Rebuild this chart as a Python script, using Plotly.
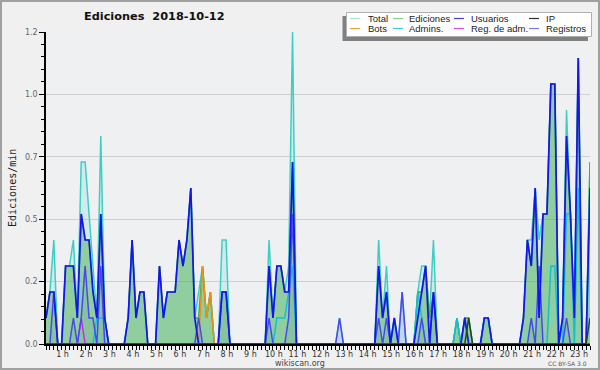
import plotly.graph_objects as go

# 10-minute slots from 00:00 to 23:10 (hours)
slot_hours = [i / 6 for i in range(140)]

hour_ticks = list(range(1, 24))
hour_labels = [f"{h} h" for h in hour_ticks]

y_tickvals = [0, 0.24, 0.48, 0.72, 0.96, 1.2]
y_ticktext = ["0.0", "0.2", "0.5", "0.7", "1.0", "1.2"]

# values in edits per minute, one row per hour (6 slots)
total = [
    0.1, 0.2, 0.4, 0, 0, 0.3,
    0.3, 0.4, 0.1, 0.7, 0.7, 0.5,
    0.3, 0.1, 0.8, 0.1, 0, 0,
    0, 0, 0, 0.1, 0.4, 0.1,
    0.2, 0.2, 0, 0, 0, 0.3,
    0.1, 0.2, 0.2, 0.2, 0.4, 0.3,
    0.4, 0.6, 0.1, 0.2, 0.3, 0.1,
    0.2, 0, 0, 0.4, 0.4, 0,
    0, 0, 0, 0, 0, 0,
    0, 0, 0, 0.4, 0.1, 0.3,
    0.3, 0.2, 0.3, 1.2, 0, 0,
    0, 0, 0, 0, 0, 0,
    0, 0, 0, 0.1, 0, 0,
    0, 0, 0, 0, 0, 0,
    0, 0.4, 0.1, 0.3, 0, 0.1,
    0, 0.2, 0, 0, 0, 0.2,
    0.3, 0.3, 0.1, 0.4, 0, 0,
    0, 0, 0, 0.1, 0, 0.1,
    0.1, 0, 0, 0, 0.1, 0.1,
    0, 0, 0, 0, 0, 0,
    0, 0, 0.1, 0.4, 0.4, 0.6,
    0.4, 0.5, 0.5, 1.0, 1.0, 0,
    0.1, 0.9, 0.5, 0.1, 1.1, 0,
    0, 0.7,
]

ediciones = [
    0.1, 0.2, 0.2, 0, 0, 0.3,
    0.3, 0.3, 0.1, 0.5, 0.4, 0.4,
    0.2, 0.1, 0.5, 0.1, 0, 0,
    0, 0, 0, 0.1, 0.4, 0.1,
    0.2, 0.2, 0, 0, 0, 0.3,
    0.1, 0.2, 0.2, 0.2, 0.4, 0.3,
    0.4, 0.6, 0.1, 0.1, 0.3, 0.1,
    0.2, 0, 0, 0.2, 0.2, 0,
    0, 0, 0, 0, 0, 0,
    0, 0, 0, 0.3, 0.1, 0.3,
    0.3, 0.2, 0.2, 0.7, 0, 0,
    0, 0, 0, 0, 0, 0,
    0, 0, 0, 0, 0, 0,
    0, 0, 0, 0, 0, 0,
    0, 0.3, 0.1, 0.2, 0, 0.1,
    0, 0, 0, 0, 0, 0.2,
    0.2, 0.3, 0.1, 0.2, 0, 0,
    0, 0, 0, 0.1, 0, 0.1,
    0.1, 0, 0, 0, 0.1, 0.1,
    0, 0, 0, 0, 0, 0,
    0, 0, 0.1, 0.4, 0.3, 0.6,
    0.1, 0.5, 0.5, 1.0, 1.0, 0,
    0.1, 0.8, 0.5, 0.1, 1.1, 0,
    0, 0.7,
]

usuarios = [
    0.1, 0.2, 0.2, 0, 0, 0.3,
    0.3, 0.3, 0.1, 0.5, 0.4, 0.4,
    0.2, 0.1, 0.5, 0.1, 0, 0,
    0, 0, 0, 0.1, 0.4, 0.1,
    0.2, 0.2, 0, 0, 0, 0.3,
    0.1, 0.2, 0.2, 0.2, 0.4, 0.3,
    0.4, 0.6, 0.1, 0, 0, 0,
    0, 0, 0, 0.2, 0.2, 0,
    0, 0, 0, 0, 0, 0,
    0, 0, 0, 0.3, 0.1, 0.3,
    0.3, 0.2, 0.2, 0.7, 0, 0,
    0, 0, 0, 0, 0, 0,
    0, 0, 0, 0, 0, 0,
    0, 0, 0, 0, 0, 0,
    0, 0.3, 0.1, 0.2, 0, 0.1,
    0, 0, 0, 0, 0, 0.1,
    0.2, 0.3, 0, 0.2, 0, 0,
    0, 0, 0, 0, 0, 0.1,
    0, 0, 0, 0, 0.1, 0.1,
    0, 0, 0, 0, 0, 0,
    0, 0, 0.1, 0.4, 0.3, 0.6,
    0.1, 0.5, 0.5, 1.0, 1.0, 0,
    0.1, 0.8, 0.5, 0.1, 1.1, 0,
    0, 0.6,
]

ip = [
    0, 0, 0, 0, 0, 0,
    0, 0, 0, 0, 0, 0,
    0, 0, 0, 0, 0, 0,
    0, 0, 0, 0, 0, 0,
    0, 0, 0, 0, 0, 0,
    0, 0, 0, 0, 0, 0,
    0, 0, 0, 0, 0, 0,
    0, 0, 0, 0, 0, 0,
    0, 0, 0, 0, 0, 0,
    0, 0, 0, 0, 0, 0,
    0, 0, 0, 0, 0, 0,
    0, 0, 0, 0, 0, 0,
    0, 0, 0, 0, 0, 0,
    0, 0, 0, 0, 0, 0,
    0, 0, 0, 0, 0, 0,
    0, 0, 0, 0, 0, 0,
    0, 0, 0, 0, 0, 0,
    0, 0, 0, 0, 0, 0,
    0.1, 0, 0, 0, 0, 0,
    0, 0, 0, 0, 0, 0,
    0, 0, 0, 0, 0, 0,
    0, 0, 0, 0, 0, 0,
    0, 0, 0, 0, 0, 0,
    0, 0.1,
]

bots = [
    0, 0, 0, 0, 0, 0,
    0, 0, 0, 0, 0, 0,
    0, 0, 0, 0, 0, 0,
    0, 0, 0, 0, 0, 0,
    0, 0, 0, 0, 0, 0,
    0, 0, 0, 0, 0, 0,
    0, 0, 0, 0, 0.3, 0.1,
    0.2, 0, 0, 0, 0, 0,
] + [0] * 92

admins = [
    0, 0, 0, 0, 0, 0,
    0, 0, 0, 0, 0, 0,
    0, 0.1, 0.1, 0.1, 0, 0,
    0, 0, 0, 0, 0, 0,
    0, 0, 0, 0, 0, 0,
    0, 0, 0, 0, 0, 0,
    0, 0, 0, 0, 0, 0,
    0, 0, 0, 0, 0, 0,
    0, 0, 0, 0, 0, 0,
    0, 0, 0, 0, 0, 0.1,
    0.1, 0.1, 0.2, 0.3, 0, 0,
    0, 0, 0, 0, 0, 0,
    0, 0, 0, 0, 0, 0,
    0, 0, 0, 0, 0, 0,
    0, 0, 0, 0, 0, 0,
    0, 0, 0, 0, 0, 0.2,
    0.1, 0, 0, 0, 0, 0,
    0, 0, 0, 0.1, 0, 0,
    0, 0, 0, 0, 0.1, 0.1,
    0, 0, 0, 0, 0, 0,
    0, 0, 0, 0, 0, 0,
    0, 0, 0, 0.3, 0.3, 0,
    0, 0.5, 0.5, 0, 0.6, 0,
    0, 0.6,
]

reg_adm = [
    0, 0, 0, 0, 0, 0,
    0, 0, 0, 0.1, 0, 0,
] + [0] * 128

registros = [
    0, 0, 0.2, 0, 0, 0,
    0, 0.1, 0, 0.1, 0.3, 0.1,
    0.1, 0, 0.3, 0, 0, 0,
    0, 0, 0, 0, 0, 0,
    0, 0, 0, 0, 0, 0,
    0, 0, 0, 0, 0, 0,
    0, 0, 0, 0.1, 0, 0,
    0, 0, 0, 0.2, 0.2, 0,
    0, 0, 0, 0, 0, 0,
    0, 0, 0, 0.1, 0, 0,
    0, 0, 0.1, 0.5, 0, 0,
    0, 0, 0, 0, 0, 0,
    0, 0, 0, 0.1, 0, 0,
    0, 0, 0, 0, 0, 0,
    0, 0.1, 0, 0.1, 0, 0,
    0, 0.2, 0, 0, 0, 0,
    0.1, 0, 0, 0.2, 0, 0,
    0, 0, 0, 0, 0, 0,
    0, 0, 0, 0, 0, 0,
    0, 0, 0, 0, 0, 0,
    0, 0, 0, 0, 0.1, 0,
    0.3, 0, 0, 0, 0, 0,
    0, 0.1, 0, 0, 0, 0,
    0, 0,
]

legend_names = ["Total", "Ediciones", "Usuarios", "IP",
                "Bots", "Admins.", "Reg. de adm.", "Registros"]
legend_colors = ["#a8e4dc", "#8cd08c", "#4040e0", "#303030",
                 "#f0a040", "#40c8d8", "#d050e0", "#7878f0"]

W, H = 600, 370
L, R, T, B = 46, 10, 32, 26
PW, PH = W - L - R, H - T - B


def px(x):
    return (x - L) / PW


def py(y):
    return (H - B - y) / PH


fig = go.Figure()

fig.add_trace(go.Scatter(x=slot_hours, y=total, name="Total", mode="lines",
                         line=dict(color="#3ecfc4", width=1.5),
                         fill="tozeroy", fillcolor="rgba(62,207,196,0.16)"))
fig.add_trace(go.Scatter(x=slot_hours, y=registros, name="Registros", mode="lines",
                         line=dict(width=0), fill="tozeroy",
                         fillcolor="rgba(80,80,230,0.12)", showlegend=False))
fig.add_trace(go.Scatter(x=slot_hours, y=ediciones, name="Ediciones", mode="lines",
                         line=dict(color="#44a850", width=1.5),
                         fill="tozeroy", fillcolor="rgba(80,176,84,0.5)"))
fig.add_trace(go.Scatter(x=slot_hours, y=admins, name="Admins.", mode="lines",
                         line=dict(color="#10c0d4", width=1.5)))
fig.add_trace(go.Scatter(x=slot_hours, y=bots, name="Bots", mode="lines",
                         line=dict(color="#f09010", width=1.5)))
fig.add_trace(go.Scatter(x=slot_hours, y=reg_adm, name="Reg. de adm.", mode="lines",
                         line=dict(color="#c030e0", width=1.5)))
fig.add_trace(go.Scatter(x=slot_hours, y=registros, name="Registros", mode="lines",
                         line=dict(color="#4848f0", width=1.5)))
fig.add_trace(go.Scatter(x=slot_hours, y=usuarios, name="Usuarios", mode="lines",
                         line=dict(color="#1414f0", width=1.7)))
fig.add_trace(go.Scatter(x=slot_hours, y=ip, name="IP", mode="lines",
                         line=dict(color="#224422", width=1.5)))

shapes = [
    # outer frame
    dict(type="rect", xref="paper", yref="paper", x0=px(1), x1=px(599), y0=py(1), y1=py(369),
         line=dict(color="#a0a0a0", width=2), fillcolor="rgba(0,0,0,0)", layer="above"),
    # legend shadow
    dict(type="rect", xref="paper", yref="paper", x0=px(342.5), x1=px(588), y0=py(16), y1=py(41),
         line=dict(width=0), fillcolor="#808080", layer="above"),
    # legend box
    dict(type="rect", xref="paper", yref="paper", x0=px(346.5), x1=px(591.5), y0=py(12.5), y1=py(36.5),
         line=dict(color="#b0b0b0", width=1), fillcolor="#ffffff", layer="above"),
]

annotations = []
sample_x = [350, 393, 454, 529]
text_x = [366, 407, 469, 544]
row_y = [18.5, 28.5]
for k, (name, col) in enumerate(zip(legend_names, legend_colors)):
    r, c = divmod(k, 4)
    shapes.append(dict(type="line", xref="paper", yref="paper",
                       x0=px(sample_x[c]), x1=px(sample_x[c] + 10),
                       y0=py(row_y[r]), y1=py(row_y[r]),
                       line=dict(color=col, width=1.2), layer="above"))
    annotations.append(dict(xref="paper", yref="paper", x=px(text_x[c]), y=py(row_y[r]),
                            text=name, showarrow=False, xanchor="left", yanchor="middle",
                            font=dict(family="Liberation Sans", size=9.5, color="#222")))

annotations += [
    dict(xref="paper", yref="paper", x=px(154), y=py(17), text="Ediciones\u00a0 2018-10-12",
         showarrow=False, xanchor="center", yanchor="middle",
         font=dict(family="DejaVu Sans", size=11.3, color="#111", weight="bold")),
    dict(xref="paper", yref="paper", x=px(12), y=py(188), text="Ediciones/min",
         showarrow=False, textangle=-90, xanchor="center", yanchor="middle",
         font=dict(family="DejaVu Sans Mono", size=10, color="#222")),
    dict(xref="paper", yref="paper", x=px(300), y=py(363), text="wikiscan.org",
         showarrow=False, xanchor="center", yanchor="middle",
         font=dict(family="DejaVu Sans", size=8, color="#444")),
    dict(xref="paper", yref="paper", x=px(589), y=py(363.5), text="CC BY-SA 3.0",
         showarrow=False, xanchor="right", yanchor="middle",
         font=dict(family="DejaVu Sans", size=6, color="#555")),
]

fig.update_layout(
    width=W, height=H,
    margin=dict(l=L, r=R, t=T, b=B),
    paper_bgcolor="#f0f0f0",
    plot_bgcolor="#eef0f2",
    showlegend=False,
    shapes=shapes,
    annotations=annotations,
    xaxis=dict(
        range=[0, slot_hours[-1]], tickmode="array", tickvals=hour_ticks, ticktext=hour_labels,
        ticks="outside", ticklen=4, tickwidth=1, tickcolor="#000",
        ticklabelshift=-7, ticklabelstandoff=-3,
        tickfont=dict(family="DejaVu Sans", size=8, color="#333"),
        showline=True, linecolor="#000", linewidth=2, showgrid=False, zeroline=False,
        layer="above traces", fixedrange=True,
        minor=dict(tickmode="linear", tick0=0, dtick=1 / 6, ticks="outside",
                   ticklen=4, tickcolor="#000", tickwidth=1, showgrid=False),
    ),
    yaxis=dict(
        range=[0, 1.2], tickmode="array", tickvals=y_tickvals, ticktext=y_ticktext,
        ticks="outside", ticklen=5, tickwidth=1, tickcolor="#000",
        tickfont=dict(family="DejaVu Sans", size=8, color="#666"),
        showline=True, linecolor="#000", linewidth=1.5,
        showgrid=True, gridcolor="#cfcfcf", gridwidth=1, zeroline=False,
        layer="above traces", fixedrange=True,
        minor=dict(tickmode="linear", tick0=0, dtick=0.048, ticks="outside",
                   ticklen=3, tickcolor="#000", tickwidth=1, showgrid=False),
    ),
)

fig.write_html("out.html")
